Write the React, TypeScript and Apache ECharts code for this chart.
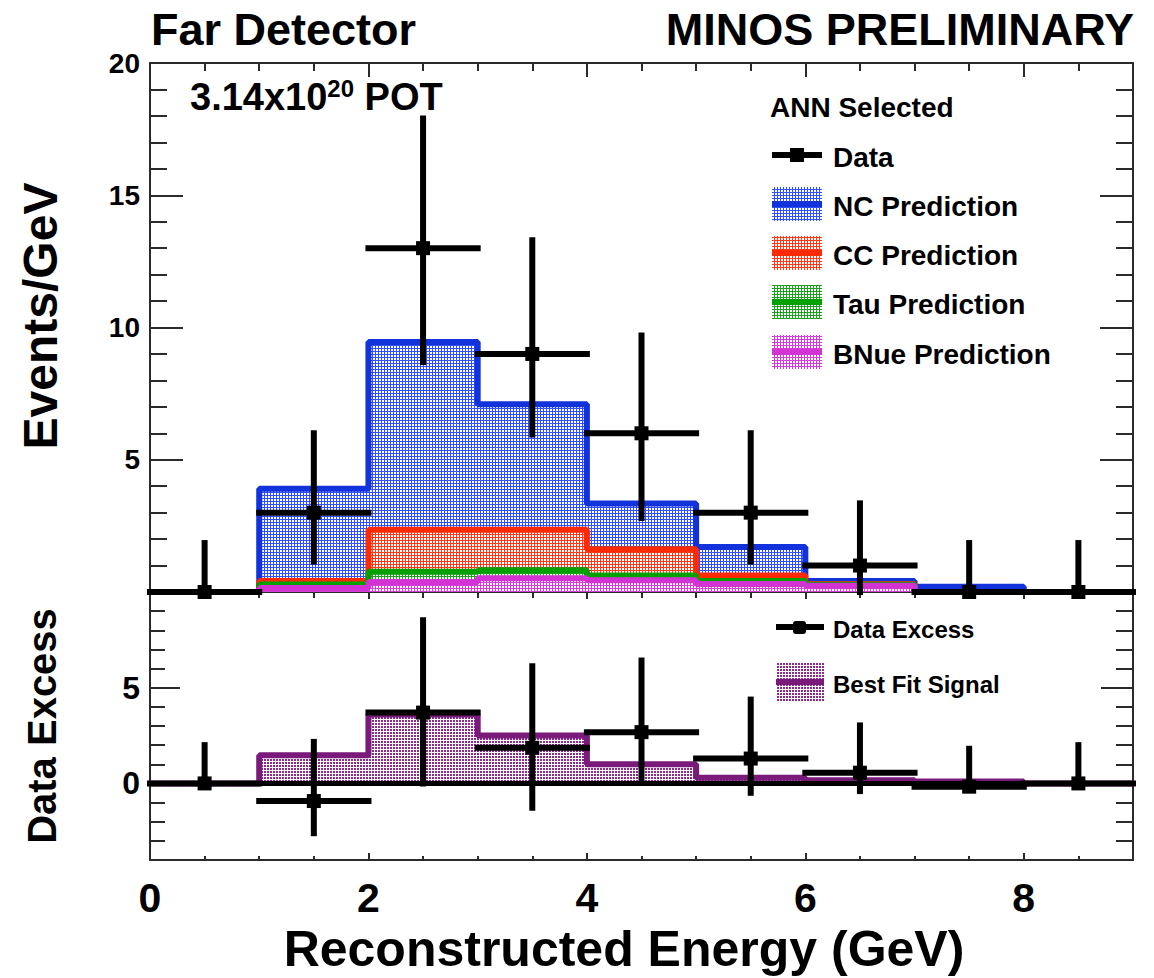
import React, { useEffect, useRef } from 'react';
import * as echarts from 'echarts';

// ---------- data ----------
const binEdges = [0, 1, 2, 3, 4, 5, 6, 7, 8, 9];
const binCenters = [0.5, 1.5, 2.5, 3.5, 4.5, 5.5, 6.5, 7.5, 8.5];
const binHalfWidth = 0.5;

const ncPrediction = [0, 3.9, 9.45, 7.1, 3.35, 1.7, 0.42, 0.2, 0];
const ccPrediction = [0, 0.42, 2.35, 2.35, 1.62, 0.62, 0.3, 0, 0];
const tauPrediction = [0, 0.28, 0.77, 0.82, 0.62, 0.42, 0.27, 0, 0];
const bnuePrediction = [0, 0.15, 0.38, 0.52, 0.44, 0.3, 0.24, 0, 0];

const dataCounts = [0, 3, 13, 9, 6, 3, 1, 0, 0];
const dataLow = [0, 1.15, 8.7, 5.95, 2.8, 1.15, 0, 0, 0];
const dataHigh = [1.85, 6.0, 17.9, 13.3, 9.7, 6.0, 3.35, 1.85, 1.85];

const bestFitSignal = [0, 1.47, 3.6, 2.5, 1.0, 0.3, 0.17, 0.1, 0];
const dataExcess = [0, -0.92, 3.7, 1.86, 2.68, 1.3, 0.56, -0.17, 0];
const excessLow = [0, -2.6, 0, -1.27, 0.12, -0.49, -0.4, -0.17, 0];
const excessHigh = [2.0, 2.17, 8.52, 6.12, 6.42, 4.38, 3.03, 1.81, 2.0];

// ---------- ticks ----------
const xMajorTicks = [0, 2, 4, 6, 8];
const xMinorTicks = [0.5, 1, 1.5, 2.5, 3, 3.5, 4.5, 5, 5.5, 6.5, 7, 7.5, 8.5];
const xTickLabels = [0, 2, 4, 6, 8];
const topYMajorTicks = [0, 5, 10, 15, 20];
const topYMinorTicks = [1, 2, 3, 4, 6, 7, 8, 9, 11, 12, 13, 14, 16, 17, 18, 19];
const topYTickLabels = [5, 10, 15, 20];
const botYMajorTicks = [0, 5];
const botYMinorTicks = [-3, -2, -1, 1, 2, 3, 4, 6, 7, 8, 9];
const botYTickLabels = [0, 5];

const FONT = '"Liberation Sans", Arial, Helvetica, sans-serif';
const FRAME = '#2b2b2b';

function dots(color: string, dense: boolean) {
  const c = document.createElement('canvas');
  c.width = 3;
  c.height = 3;
  const ctx = c.getContext('2d')!;
  ctx.fillStyle = '#ffffff';
  ctx.fillRect(0, 0, 3, 3);
  ctx.fillStyle = color;
  if (dense) {
    ctx.fillRect(0, 0, 3, 1);
    ctx.fillRect(0, 0, 1, 3);
  } else {
    ctx.fillRect(0, 0, 2, 2);
  }
  return { image: c, repeat: 'repeat', imageWidth: 3, imageHeight: 3 } as any;
}

function axis(
  gridIndex: number,
  position: string,
  min: number,
  max: number,
  ticks: number[],
  len: number,
  showLine: boolean,
  labels?: number[],
  labelSize?: number,
  labelMargin?: number
) {
  return {
    type: 'value',
    gridIndex,
    position,
    min,
    max,
    axisLine: { show: showLine, onZero: false, lineStyle: { color: FRAME, width: 2 } },
    axisTick: { show: true, inside: true, customValues: ticks, length: len, lineStyle: { color: FRAME, width: 2 } },
    axisLabel: labels
      ? {
          show: true,
          customValues: labels,
          fontSize: labelSize,
          fontWeight: 'bold',
          fontFamily: FONT,
          color: '#000',
          margin: labelMargin,
        }
      : { show: false },
    splitLine: { show: false },
  };
}

function stepData(vals: number[]) {
  return binEdges.map((e, i) => [e, vals[Math.min(i, vals.length - 1)]]);
}

function errRender(color: string) {
  return (params: any, api: any) => {
    const x = api.value(0);
    const y = api.value(1);
    const lo = api.value(2);
    const hi = api.value(3);
    const pL = api.coord([x - binHalfWidth, y]);
    const pR = api.coord([x + binHalfWidth, y]);
    const pLo = api.coord([x, lo]);
    const pHi = api.coord([x, hi]);
    const c = api.coord([x, y]);
    return {
      type: 'group',
      children: [
        { type: 'line', shape: { x1: pL[0], y1: pL[1], x2: pR[0], y2: pR[1] }, style: { stroke: color, lineWidth: 6, lineCap: 'square' } },
        { type: 'line', shape: { x1: pLo[0], y1: pLo[1], x2: pHi[0], y2: pHi[1] }, style: { stroke: color, lineWidth: 6, lineCap: 'square' } },
        { type: 'rect', shape: { x: c[0] - 7, y: c[1] - 7, width: 14, height: 14 }, style: { fill: color } },
      ],
    };
  };
}

export default function App() {
  const ref = useRef<HTMLDivElement>(null);
  useEffect(() => {
    if (!ref.current) return;
    const chart = echarts.init(ref.current, null, { renderer: 'svg' });

    const ncFill = dots('#3050ff', true);
    const ccFill = dots('#ff3a1a', true);
    const tauFill = dots('#20a020', true);
    const bnFill = dots('#d83cd8', true);
    const bfFill = dots('#8a2a8a', false);

    const NC = '#1232dc';
    const CC = '#ff2a00';
    const TAU = '#00a000';
    const BN = '#d433d4';
    const BF = '#7a1a7a';

    const histo = (name: string, vals: number[], color: string, fill: any, xi: number, yi: number) => ({
      name,
      type: 'line',
      step: 'end',
      xAxisIndex: xi,
      yAxisIndex: yi,
      data: stepData(vals),
      showSymbol: false,
      symbol: 'none',
      lineStyle: { color, width: 6 },
      areaStyle: { color: fill, opacity: 1 },
      clip: false,
    });

    const legendBox = (y: number, color: string, fill: any, x1 = 772, w = 50, h = 34) => [
      { type: 'rect', shape: { x: x1, y: y - h / 2, width: w, height: h }, style: { fill } },
      { type: 'line', shape: { x1, y1: y, x2: x1 + w, y2: y }, style: { stroke: color, lineWidth: 6 } },
    ];
    const legendText = (x: number, y: number, text: string, size: number) => ({
      type: 'text',
      x,
      y,
      style: { text, font: `bold ${size}px ${FONT}`, fill: '#000', textAlign: 'left', textVerticalAlign: 'middle' },
    });

    const option: any = {
      animation: false,
      backgroundColor: '#ffffff',
      grid: [
        { left: 150, top: 63, width: 983, height: 529, outerBoundsMode: 'none' },
        { left: 150, top: 592, width: 983, height: 268, outerBoundsMode: 'none' },
      ],
      xAxis: [
        axis(0, 'bottom', 0, 9, xMajorTicks, 7, true),
        axis(0, 'bottom', 0, 9, xMinorTicks, 6, false),
        axis(0, 'top', 0, 9, xMajorTicks, 14, true),
        axis(0, 'top', 0, 9, xMinorTicks, 8, false),
        axis(1, 'bottom', 0, 9, xMajorTicks, 7, true, xTickLabels, 41, 17),
        axis(1, 'bottom', 0, 9, xMinorTicks, 4, false),
        axis(1, 'top', 0, 9, xMajorTicks, 7, true),
        axis(1, 'top', 0, 9, xMinorTicks, 6, false),
      ],
      yAxis: [
        axis(0, 'left', 0, 20, topYMajorTicks, 33, true, topYTickLabels, 28, 10),
        axis(0, 'left', 0, 20, topYMinorTicks, 17, false),
        axis(0, 'right', 0, 20, topYMajorTicks, 33, true),
        axis(0, 'right', 0, 20, topYMinorTicks, 17, false),
        axis(1, 'left', -4, 10, botYMajorTicks, 30, true, botYTickLabels, 32, 10),
        axis(1, 'left', -4, 10, botYMinorTicks, 15, false),
        axis(1, 'right', -4, 10, botYMajorTicks, 32, true),
        axis(1, 'right', -4, 10, botYMinorTicks, 17, false),
      ],
      series: [
        histo('NC Prediction', ncPrediction, NC, ncFill, 0, 0),
        histo('CC Prediction', ccPrediction, CC, ccFill, 0, 0),
        histo('Tau Prediction', tauPrediction, TAU, tauFill, 0, 0),
        histo('BNue Prediction', bnuePrediction, BN, bnFill, 0, 0),
        {
          name: 'Data',
          type: 'custom',
          xAxisIndex: 0,
          yAxisIndex: 0,
          renderItem: errRender('#000'),
          data: binCenters.map((x, i) => [x, dataCounts[i], dataLow[i], dataHigh[i]]),
          encode: { x: 0, y: 1 },
          z: 5,
        },
        {
          ...histo('Best Fit Signal', bestFitSignal, BF, bfFill, 4, 4),
          markLine: {
            silent: true,
            symbol: 'none',
            label: { show: false },
            lineStyle: { color: '#000', width: 5, type: 'solid' },
            data: [{ yAxis: 0 }],
          },
        },
        {
          name: 'Data Excess',
          type: 'custom',
          xAxisIndex: 4,
          yAxisIndex: 4,
          renderItem: errRender('#000'),
          data: binCenters.map((x, i) => [x, dataExcess[i], excessLow[i], excessHigh[i]]),
          encode: { x: 0, y: 1 },
          z: 5,
        },
      ],
      graphic: {
        elements: [
          { type: 'text', x: 151, y: 29, style: { text: 'Far Detector', font: `bold 45px ${FONT}`, fill: '#000', textAlign: 'left', textVerticalAlign: 'middle' } },
          { type: 'text', x: 1134, y: 29, style: { text: 'MINOS PRELIMINARY', font: `bold 45px ${FONT}`, fill: '#000', textAlign: 'right', textVerticalAlign: 'middle' } },
          {
            type: 'text',
            x: 190,
            y: 96,
            style: {
              text: '{a|3.14x10}{b|20}{a| POT}',
              textAlign: 'left',
              textVerticalAlign: 'middle',
              rich: {
                a: { font: `bold 38px ${FONT}`, fill: '#000', lineHeight: 40, verticalAlign: 'bottom' },
                b: { font: `bold 24px ${FONT}`, fill: '#000', lineHeight: 40, verticalAlign: 'top' },
              },
            },
          },
          { type: 'text', x: 40, y: 316, rotation: Math.PI / 2, style: { text: 'Events/GeV', font: `bold 48px ${FONT}`, fill: '#000', textAlign: 'center', textVerticalAlign: 'middle' } },
          { type: 'text', x: 42, y: 726, rotation: Math.PI / 2, style: { text: 'Data Excess', font: `bold 40px ${FONT}`, fill: '#000', textAlign: 'center', textVerticalAlign: 'middle' } },
          { type: 'text', x: 624, y: 949, style: { text: 'Reconstructed Energy (GeV)', font: `bold 50px ${FONT}`, fill: '#000', textAlign: 'center', textVerticalAlign: 'middle' } },

          legendText(770, 107, 'ANN Selected', 28),
          { type: 'line', shape: { x1: 772, y1: 155, x2: 822, y2: 155 }, style: { stroke: '#000', lineWidth: 6 } },
          { type: 'rect', shape: { x: 790, y: 148, width: 14, height: 14 }, style: { fill: '#000' } },
          legendText(833, 157, 'Data', 28),
          ...legendBox(204, NC, ncFill),
          legendText(833, 206, 'NC Prediction', 28),
          ...legendBox(253, CC, ccFill),
          legendText(833, 255, 'CC Prediction', 28),
          ...legendBox(302, TAU, tauFill),
          legendText(833, 304, 'Tau Prediction', 28),
          ...legendBox(352, BN, bnFill),
          legendText(833, 354, 'BNue Prediction', 28),

          { type: 'line', shape: { x1: 776, y1: 627, x2: 824, y2: 627 }, style: { stroke: '#000', lineWidth: 6 } },
          { type: 'rect', shape: { x: 793, y: 621, width: 13, height: 13, r: 3 }, style: { fill: '#000' } },
          legendText(833, 629, 'Data Excess', 24),
          ...legendBox(682, BF, bfFill, 776, 48, 40),
          legendText(833, 684, 'Best Fit Signal', 24),
        ],
      },
    };

    chart.setOption(option);
    return () => chart.dispose();
  }, []);

  return (
    <div
      ref={ref}
      style={{ position: 'absolute', left: 0, top: 0, width: 1154, height: 978, background: '#fff' }}
    />
  );
}
